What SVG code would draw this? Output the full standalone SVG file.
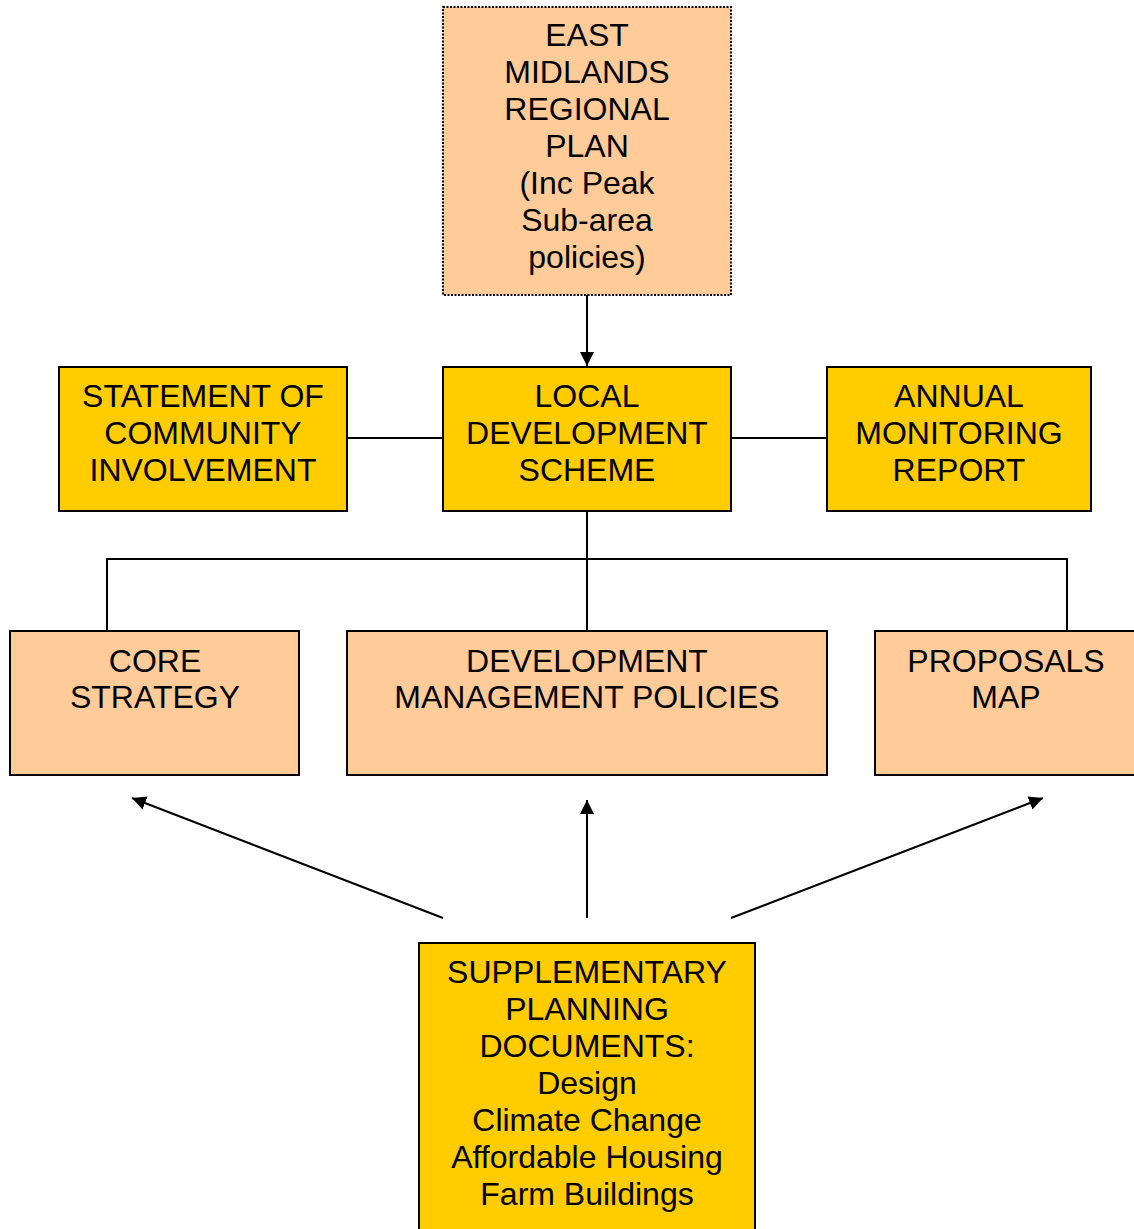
<svg xmlns="http://www.w3.org/2000/svg" width="1134" height="1229" viewBox="0 0 1134 1229">
<style>
.peach{fill:#FFCC99;stroke:#000;stroke-width:2}
.gold{fill:#FFCC00;stroke:#000;stroke-width:2}
.dot{stroke-dasharray:2 1.5}
text{font-family:"Liberation Sans",Arial,sans-serif;font-size:32px;fill:#000;text-anchor:middle}
.ln{stroke:#000;stroke-width:2;fill:none}
</style>
<defs>
<marker id="ah" viewBox="0 0 10 10" refX="10" refY="5" markerWidth="8" markerHeight="8" markerUnits="userSpaceOnUse" orient="auto"><path d="M0,0 L10,5 L0,10 z" fill="#000"/></marker>
<marker id="ah2" viewBox="0 0 10 10" refX="10" refY="5" markerWidth="7" markerHeight="7" orient="auto"><path d="M0,0 L10,5 L0,10 z" fill="#000"/></marker>
</defs>
<rect width="1134" height="1229" fill="#fff"/>
<g id="connectors">
<line class="ln" x1="587" y1="295" x2="587" y2="366" marker-end="url(#ah2)"/>
<line class="ln" x1="347" y1="438" x2="443" y2="438"/>
<line class="ln" x1="731" y1="438" x2="827" y2="438"/>
<line class="ln" x1="587" y1="511" x2="587" y2="631"/>
<polyline class="ln" points="107,631 107,559 1067,559 1067,631"/>
<line class="ln" x1="443" y1="918" x2="132" y2="798" marker-end="url(#ah2)"/>
<line class="ln" x1="587" y1="918" x2="587" y2="800" marker-end="url(#ah2)"/>
<line class="ln" x1="731" y1="918" x2="1043" y2="798" marker-end="url(#ah2)"/>
</g>
<g id="regional-plan">
<rect class="peach dot" x="443" y="7" width="288" height="288"/>
<text x="587" y="46">EAST</text>
<text x="587" y="83">MIDLANDS</text>
<text x="587" y="120">REGIONAL</text>
<text x="587" y="157">PLAN</text>
<text x="587" y="194">(Inc Peak</text>
<text x="587" y="231">Sub-area</text>
<text x="587" y="268">policies)</text>
</g>
<g id="sci">
<rect class="gold" x="59" y="367" width="288" height="144"/>
<text x="203" y="407">STATEMENT OF</text>
<text x="203" y="444">COMMUNITY</text>
<text x="203" y="481">INVOLVEMENT</text>
</g>
<g id="lds">
<rect class="gold" x="443" y="367" width="288" height="144"/>
<text x="587" y="407">LOCAL</text>
<text x="587" y="444">DEVELOPMENT</text>
<text x="587" y="481">SCHEME</text>
</g>
<g id="amr">
<rect class="gold" x="827" y="367" width="264" height="144"/>
<text x="959" y="407">ANNUAL</text>
<text x="959" y="444">MONITORING</text>
<text x="959" y="481">REPORT</text>
</g>
<g id="core-strategy">
<rect class="peach" x="10" y="631" width="289" height="144"/>
<text x="155" y="672">CORE</text>
<text x="155" y="708">STRATEGY</text>
</g>
<g id="dmp">
<rect class="peach" x="347" y="631" width="480" height="144"/>
<text x="587" y="672">DEVELOPMENT</text>
<text x="587" y="708">MANAGEMENT POLICIES</text>
</g>
<g id="proposals-map">
<rect class="peach" x="875" y="631" width="264" height="144"/>
<text x="1006" y="672">PROPOSALS</text>
<text x="1006" y="708">MAP</text>
</g>
<g id="spd">
<rect class="gold" x="419" y="943" width="336" height="292"/>
<text x="587" y="983">SUPPLEMENTARY</text>
<text x="587" y="1020">PLANNING</text>
<text x="587" y="1057">DOCUMENTS:</text>
<text x="587" y="1094">Design</text>
<text x="587" y="1131">Climate Change</text>
<text x="587" y="1168">Affordable Housing</text>
<text x="587" y="1205">Farm Buildings</text>
</g>
</svg>
